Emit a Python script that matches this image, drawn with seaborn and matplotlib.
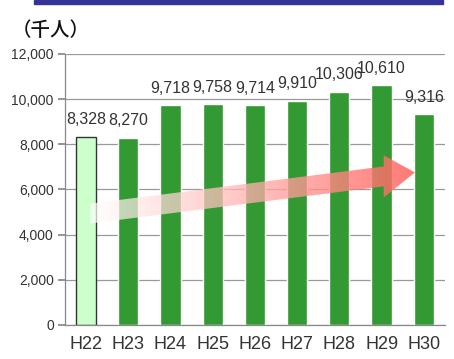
import matplotlib
matplotlib.use("Agg")
import matplotlib.pyplot as plt
import numpy as np
import pandas as pd
import seaborn as sns
from matplotlib.patches import Rectangle, Polygon

years = ["H22", "H23", "H24", "H25", "H26", "H27", "H28", "H29", "H30"]
visitors = [8328, 8270, 9718, 9758, 9714, 9910, 10306, 10610, 9316]
bar_colors = ["#ccffcc"] + ["#339933"] * 8

df = pd.DataFrame({"year": years, "visitors": visitors})

sns.set_theme(style="white")
plt.rcParams["font.family"] = ["Liberation Sans", "DejaVu Sans"]

fig = plt.figure(figsize=(4.54, 3.59), dpi=100)
ax = fig.add_axes([0.143, 0.095, 0.837, 0.755])

sns.barplot(data=df, x="year", y="visitors", hue="year", palette=bar_colors,
            legend=False, width=0.48, saturation=1, ax=ax, zorder=2)
# edge on the first (reference) bar
ax.patches[0].set_edgecolor("#333333")
ax.patches[0].set_linewidth(1.0)

for i, v in enumerate(visitors):
    ax.text(i, v + 430, f"{v:,}", ha="center", va="bottom", fontsize=11.5,
            color="#333333", clip_on=False, zorder=5)

ax.set_ylim(0, 12000)
ax.set_xlim(-0.5, 8.5)
ax.set_yticks(range(0, 12001, 2000))
ax.set_yticklabels([f"{t:,}" for t in range(0, 12001, 2000)], fontsize=10, color="#333333")
ax.set_xticks(range(len(years)))
ax.set_xticklabels(years, fontsize=13, color="#333333")
ax.set_xticks(np.arange(-0.5, 8.6, 1), minor=True)
ax.tick_params(axis="x", which="major", length=0, pad=8)
ax.tick_params(axis="x", which="minor", length=5, color="#888888", direction="out")
ax.tick_params(axis="y", length=5, color="#888888", direction="out", left=True, pad=3)
ax.set_xlabel("")
ax.set_ylabel("")
ax.yaxis.grid(True, color="#999999", linewidth=0.9, zorder=0)
ax.set_axisbelow(True)
for s in ["top", "right"]:
    ax.spines[s].set_visible(False)
for s in ["left", "bottom"]:
    ax.spines[s].set_color("#888888")
    ax.spines[s].set_linewidth(0.9)

# gradient trend arrow
x0, y0 = 0.10, 4930
x1, y1 = 7.79, 6750
xh = 7.05
dy = (y1 - y0) / (x1 - x0)
yh = y0 + dy * (xh - x0)
hw, hh = 440, 930
arrow = Polygon([(x0, y0 - hw), (xh, yh - hw), (xh, yh - hh), (x1, y1),
                 (xh, yh + hh), (xh, yh + hw), (x0, y0 + hw)],
                closed=True, transform=ax.transData, facecolor="none", edgecolor="none")
ax.add_patch(arrow)
n = 256
t = np.linspace(0, 1, n)
grad = np.zeros((2, n, 4))
grad[..., 0] = 1.0
grad[..., 1] = 1.0 - 0.62 * t
grad[..., 2] = 1.0 - 0.64 * t
grad[..., 3] = 0.7 + 0.15 * t
im = ax.imshow(grad, extent=[x0, x1, y0 - hh, y1 + hh], aspect="auto",
               origin="lower", zorder=4, interpolation="bilinear")
im.set_clip_path(arrow)
ax.set_xlim(-0.5, 8.5)
ax.set_ylim(0, 12000)

# top blue band and unit label
fig.patches.append(Rectangle((34 / 454, 1 - 4 / 359), 409 / 454, 4 / 359,
                             transform=fig.transFigure, color="#333399", zorder=0))
fig.text(0.025, 0.915, "（千人）", fontsize=14, fontweight="medium", color="#111111",
         family=["Noto Sans CJK JP", "DejaVu Sans"], va="center", ha="left")

fig.savefig("out.png", dpi=100)
